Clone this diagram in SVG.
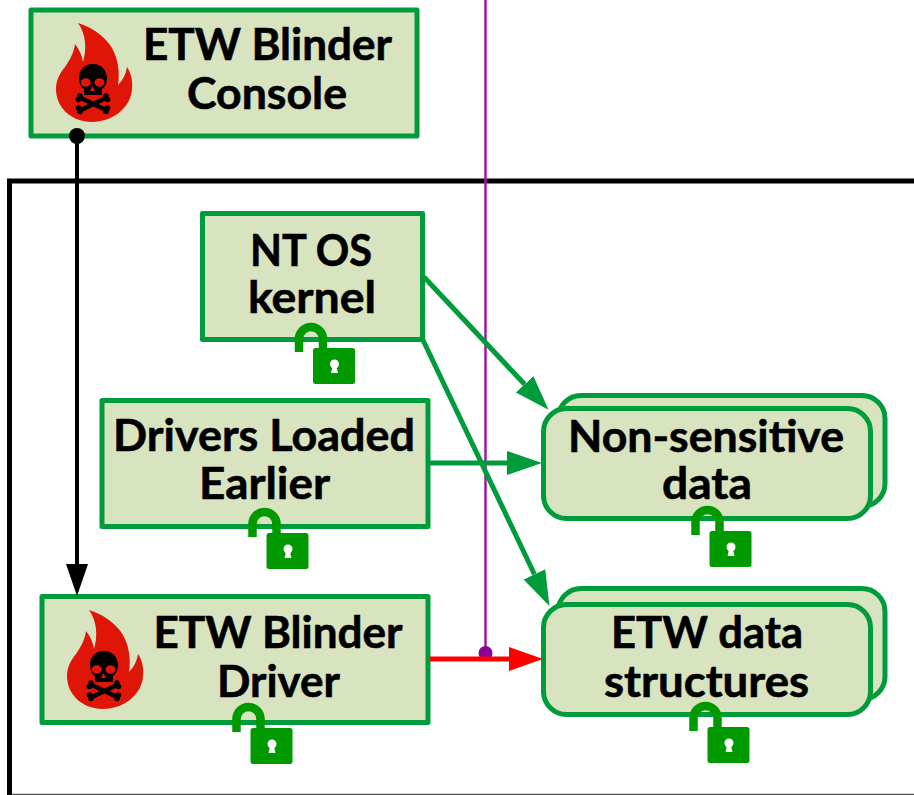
<svg xmlns="http://www.w3.org/2000/svg" width="914" height="795" viewBox="0 0 914 795">
<style>
.box{fill:#D8E3BF;stroke:#009C3B;stroke-width:5;stroke-linejoin:round}
.t{font-family:"Lato","Liberation Sans",sans-serif;font-weight:700;font-size:44px;fill:#000;stroke:#000;stroke-width:0.6;text-anchor:middle}
.g{fill:none;stroke:#009C3B;stroke-width:5}
</style>
<defs>
<marker id="ag" markerUnits="userSpaceOnUse" markerWidth="35" markerHeight="26" refX="0" refY="13" orient="auto"><path d="M0 1L35 13L0 25Z" fill="#009C3B"/></marker>
<marker id="ar" markerUnits="userSpaceOnUse" markerWidth="34" markerHeight="24" refX="0" refY="12" orient="auto"><path d="M0 0L34 12L0 24Z" fill="#FF0000"/></marker>
<marker id="ak" markerUnits="userSpaceOnUse" markerWidth="32" markerHeight="22" refX="0" refY="11" orient="auto"><path d="M0 0L32 11L0 22Z" fill="#000"/></marker>
<g id="flame">
<path d="M78 23C91 27 104 35 112 48C118 59 120 72 118 85C123 80 126 74 127 67C131 73 133 81 132 89C131 108 112 122 92 122C72 122 56 108 56 89C56 80 60 73 65 67C70 60 74 52 75 44C79 49 82 55 83 62C87 49 86 34 78 23Z" fill="#DF1507"/>
<path d="M92.700 64C101 64 107 70 107 78C107 83 105 87 102 89V95H84V89C81 87 79 83 79 78C79 70 85 64 92.700 64Z" fill="#000"/>
<ellipse cx="85.800" cy="82.500" rx="5" ry="4.200" fill="#DF1507"/><ellipse cx="99.500" cy="82.500" rx="5" ry="4.200" fill="#DF1507"/>
<path d="M92.500 86L95 91H90Z" fill="#DF1507"/>
<path d="M81 98L106 110M81 110L106 98" stroke="#000" stroke-width="4.500" stroke-linecap="round" fill="none"/>
<g fill="#000"><circle cx="80" cy="96" r="2.800"/><circle cx="78.500" cy="99.500" r="2.800"/><circle cx="106" cy="96" r="2.800"/><circle cx="107.500" cy="99.500" r="2.800"/><circle cx="80" cy="111.500" r="2.800"/><circle cx="78.500" cy="108" r="2.800"/><circle cx="106" cy="111.500" r="2.800"/><circle cx="107.500" cy="108" r="2.800"/></g>
</g>
<g id="lock">
<path d="M-14 4V-9A12 12 0 0 1 10 -9V4" fill="none" stroke="#009900" stroke-width="8.500"/>
<rect x="0" y="0" width="42" height="36" rx="2.500" fill="#009900"/>
<circle cx="21.500" cy="16" r="4.500" fill="#fff"/><path d="M20 17H23L25 25H18Z" fill="#fff"/>
</g>
</defs>
<g id="container"><path d="M9.500 795V181H914" fill="none" stroke="#000" stroke-width="5"/><path d="M12 794.500H914" stroke="#555" stroke-width="1.500"/></g>
<g id="console"><rect class="box" x="31" y="10" width="386" height="126"/><use href="#flame"/><text class="t" x="267.500" y="60" textLength="249" lengthAdjust="spacingAndGlyphs">ETW Blinder</text><text class="t" x="267" y="109" textLength="160" lengthAdjust="spacingAndGlyphs">Console</text></g>
<g id="kernel"><rect class="box" x="202.500" y="213.500" width="220" height="126"/><text class="t" x="311" y="266" textLength="122" lengthAdjust="spacingAndGlyphs">NT OS</text><text class="t" x="312" y="313" textLength="128" lengthAdjust="spacingAndGlyphs">kernel</text><use href="#lock" x="313" y="348"/></g>
<g id="drivers"><rect class="box" x="102" y="400.500" width="326" height="126"/><text class="t" x="264" y="451" textLength="302" lengthAdjust="spacingAndGlyphs">Drivers Loaded</text><text class="t" x="264.500" y="499" textLength="131" lengthAdjust="spacingAndGlyphs">Earlier</text><use href="#lock" x="266.500" y="533"/></g>
<g id="driver"><rect class="box" x="42" y="596.500" width="386" height="126"/><use href="#flame" x="11" y="587"/><text class="t" x="278" y="648" textLength="249" lengthAdjust="spacingAndGlyphs">ETW Blinder</text><text class="t" x="278.500" y="697" textLength="123" lengthAdjust="spacingAndGlyphs">Driver</text><use href="#lock" x="250.500" y="728"/></g>
<g id="nonsensitive"><rect class="box" x="558" y="395.500" width="327" height="111" rx="23"/><rect class="box" x="543.500" y="408.500" width="327" height="110" rx="23"/><text class="t" x="706" y="452" textLength="276" lengthAdjust="spacingAndGlyphs">Non-sensitive</text><text class="t" x="707" y="499" textLength="90" lengthAdjust="spacingAndGlyphs">data</text><use href="#lock" x="709.500" y="531"/></g>
<g id="etwdata"><rect class="box" x="558" y="588.500" width="327" height="111" rx="23"/><rect class="box" x="543.500" y="604.500" width="327" height="110" rx="23"/><text class="t" x="707" y="648" textLength="192" lengthAdjust="spacingAndGlyphs">ETW data</text><text class="t" x="706.500" y="697" textLength="205" lengthAdjust="spacingAndGlyphs">structures</text><use href="#lock" x="707.500" y="727"/></g>
<g id="connectors">
<path d="M485.500 0V653" stroke="#A2189F" stroke-width="2.500" fill="none"/>
<circle cx="485.500" cy="653" r="7" fill="#8F009A"/>
<circle cx="77" cy="136" r="8" fill="#000"/>
<path d="M77 136V564" stroke="#000" stroke-width="4" fill="none" marker-end="url(#ak)"/>
<path class="g" d="M424 277L524.600 384.300" marker-end="url(#ag)"/>
<path class="g" d="M422 338L534.400 574.300" marker-end="url(#ag)"/>
<path class="g" d="M428 463H507" marker-end="url(#ag)"/>
<path d="M430 659H509" stroke="#FF0000" stroke-width="5" fill="none" marker-end="url(#ar)"/>
</g>
</svg>
